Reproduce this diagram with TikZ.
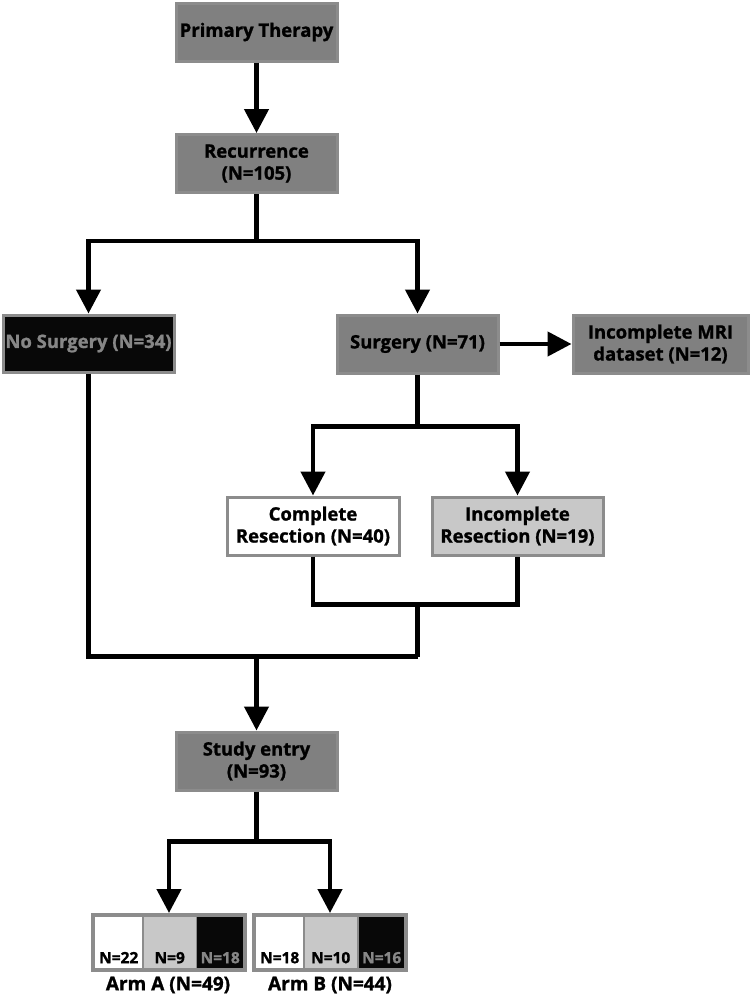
\documentclass[tikz,border=0pt]{standalone}
\usepackage{fontspec}
\setmainfont{Open Sans}[BoldFeatures={FakeBold=1.2}]
\usetikzlibrary{arrows.meta,positioning,calc}
\definecolor{boxfill}{RGB}{128,128,128}
\definecolor{boxline}{RGB}{140,140,140}
\definecolor{lightfill}{RGB}{200,200,200}
\definecolor{darkfill}{RGB}{8,8,8}
\definecolor{graytext}{RGB}{135,135,135}
\tikzset{
  box/.style={draw=boxline, line width=3pt, fill=boxfill, minimum width=161pt, minimum height=58pt,
    inner sep=1pt, align=center, font=\fontsize{18.5}{22}\selectfont\bfseries, text=black},
  conn/.style={line width=4.5pt, draw=black},
  arr/.style={conn, -{Triangle[length=24pt,width=24pt]}},
  cell/.style={draw=none, minimum height=51pt, inner sep=0pt, anchor=north west,
    font=\fontsize{15.5}{16}\selectfont\bfseries, text depth=5pt, text height=46pt},
  armlab/.style={font=\fontsize{19}{20}\selectfont\bfseries, inner sep=0pt},
}
\begin{document}
\begin{tikzpicture}[x=1pt,y=-1pt]
\useasboundingbox (0,0) rectangle (750,996);
% main boxes
\node[box] (prim) at (256.5,32) {Primary Therapy};
\node[box] (rec) at (256.5,163.5) {Recurrence\\(N=105)};
\node[box, fill=darkfill, text=graytext, minimum width=171pt, minimum height=57pt] (nos) at (88.5,343.5) {No Surgery (N=34)};
\node[box] (surg) at (417.5,344) {Surgery (N=71)};
\node[box, minimum width=175pt] (mri) at (660.5,344) {Incomplete MRI\\dataset (N=12)};
\node[box, fill=white, minimum width=172pt] (comp) at (313,526) {Complete\\Resection (N=40)};
\node[box, fill=lightfill, minimum width=171pt] (inc) at (517.5,526) {Incomplete\\Resection (N=19)};
\node[box] (study) at (256.5,761) {Study entry\\(N=93)};
% arm boxes
\node[draw=boxline, fill=boxline, line width=1pt, minimum width=155pt, minimum height=58pt, inner sep=0pt] (armA) at (169,942.5) {};
\node[draw=boxline, fill=boxline, line width=1pt, minimum width=155pt, minimum height=58pt, inner sep=0pt] (armB) at (330,942.5) {};
\node[cell, fill=white, minimum width=47pt] (a1) at (95,917) {N=22};
\node[cell, fill=lightfill, minimum width=52pt] (a2) at (143.5,917) {N=9};
\node[cell, fill=darkfill, text=graytext, minimum width=46pt] (a3) at (197,917) {N=18};
\node[cell, fill=white, minimum width=47pt] (b1) at (256,917) {N=18};
\node[cell, fill=lightfill, minimum width=52pt] (b2) at (304.5,917) {N=10};
\node[cell, fill=darkfill, text=graytext, minimum width=45pt] (b3) at (359,917) {N=16};
\node[armlab] (labA) at (168,985) {Arm A (N=49)};
\node[armlab] (labB) at (330,985) {Arm B (N=44)};
% junction coordinates
\coordinate (j1) at ($(rec.south)+(0,47)$);
\coordinate (j2) at ($(surg.south)+(0,52)$);
\coordinate (m1) at ($(surg.south)+(0,230)$);
\coordinate (m2) at ($(surg.south)+(0,282)$);
\coordinate (j3) at ($(study.south)+(0,50)$);
% connectors
\draw[arr] (prim.south) -- (rec.north);
\draw[conn] (rec.south) -- (j1);
\draw[arr] (j1) -| (nos.north);
\draw[arr] (j1) -| (surg.north);
\draw[arr] (surg.east) -- (mri.west);
\draw[conn] (surg.south) -- (j2);
\draw[arr] (j2) -| (comp.north);
\draw[arr] (j2) -| (inc.north);
\draw[conn] (comp.south) |- (m1) -| (inc.south);
\draw[conn] (m1) -- (m2);
\draw[conn] (nos.south) |- (m2);
\draw[arr] (study.north |- m2) -- (study.north);
\draw[conn] (study.south) -- (j3);
\draw[arr] (j3) -| (armA.north);
\draw[arr] (j3) -| (armB.north);
\end{tikzpicture}
\end{document}
